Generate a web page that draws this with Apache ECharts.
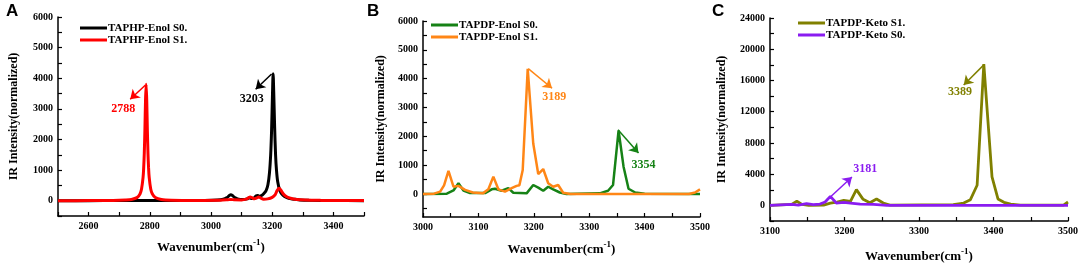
<!DOCTYPE html>
<html><head><meta charset="utf-8">
<script src="https://cdn.jsdelivr.net/npm/echarts@6/dist/echarts.min.js"></script>
<style>html,body{margin:0;padding:0;background:#fff}#c{width:1084px;height:264px}</style>
</head><body><div id="c"></div>
<script>
// ---------- data ----------
const A_S0 = [[2500,0],[2600,2],[2700,5],[2760,8],[2790,10],[2820,8],[2900,5],[2980,8],[3020,20],[3040,45],[3052,100],[3060,170],[3065,195],[3070,170],[3078,100],[3090,45],[3105,35],[3118,60],[3126,95],[3133,70],[3141,90],[3148,160],[3153,170],[3158,140],[3165,170],[3172,230],[3180,330],[3186,520],[3191,900],[3195,1500],[3198,2300],[3201,3500],[3203,4150],[3205,3550],[3208,2400],[3211,1500],[3214,1000],[3218,620],[3225,330],[3235,180],[3248,100],[3262,60],[3275,45],[3290,25],[3320,12],[3400,5],[3500,2]];
const A_S1 = [[2500,0],[2600,3],[2680,8],[2720,22],[2740,40],[2758,100],[2768,220],[2773,380],[2778,760],[2780,1070],[2782,1560],[2784,2320],[2786,3275],[2788,3800],[2790,3275],[2792,2320],[2794,1560],[2796,1070],[2798,760],[2803,380],[2808,224],[2818,103],[2838,40],[2870,18],[2950,10],[3030,15],[3055,30],[3065,40],[3075,30],[3100,25],[3115,50],[3122,90],[3128,120],[3134,100],[3142,60],[3150,90],[3156,120],[3162,90],[3172,50],[3185,60],[3200,110],[3210,200],[3216,330],[3222,410],[3228,350],[3236,230],[3246,140],[3260,80],[3280,40],[3310,20],[3360,10],[3420,5],[3500,3]];
const B_S0 = [[3000,0],[3043,10],[3055,120],[3064,370],[3073,120],[3085,30],[3112,30],[3124,160],[3130,180],[3142,110],[3154,200],[3163,40],[3187,20],[3199,310],[3208,220],[3217,110],[3226,250],[3235,160],[3247,50],[3259,0],[3319,20],[3334,110],[3343,310],[3353,2200],[3362,945],[3371,180],[3383,50],[3400,10],[3500,0]];
const B_S1 = [[3000,0],[3020,10],[3031,80],[3038,300],[3046,800],[3055,250],[3064,280],[3076,140],[3090,50],[3108,20],[3118,160],[3127,600],[3136,160],[3148,80],[3160,200],[3169,280],[3174,300],[3180,830],[3189,4340],[3199,1750],[3208,690],[3217,865],[3226,370],[3235,250],[3244,310],[3253,40],[3266,0],[3480,0],[3491,50],[3500,160]];
const C_S1 = [[3100,0],[3129,130],[3136,520],[3143,130],[3152,0],[3172,40],[3181,300],[3190,430],[3199,650],[3208,520],[3216,2020],[3225,775],[3234,345],[3243,820],[3252,300],[3261,40],[3346,90],[3360,300],[3369,730],[3378,2580],[3387,18100],[3398,3655],[3406,820],[3414,390],[3423,170],[3436,40],[3494,40],[3500,430]];
const C_S0 = [[3100,0],[3129,130],[3138,40],[3149,215],[3158,90],[3167,170],[3174,430],[3181,1160],[3189,300],[3199,390],[3208,300],[3221,170],[3239,130],[3257,0],[3500,0]];

const seriesNames = ['TAPHP-Enol S0.','TAPHP-Enol S1.','TAPDP-Enol S0.','TAPDP-Enol S1.','TAPDP-Keto S1.','TAPDP-Keto S0.'];

const A_xLabels = [2600,2800,3000,3200,3400];
const A_xTicks = [2500,2600,2700,2800,2900,3000,3100,3200,3300,3400,3500];
const A_yLabels = [0,1000,2000,3000,4000,5000,6000];
const A_yTicks = [-500,0,500,1000,1500,2000,2500,3000,3500,4000,4500,5000,5500,6000];
const B_xLabels = [3000,3100,3200,3300,3400,3500];
const B_xTicks = [3000,3050,3100,3150,3200,3250,3300,3350,3400,3450,3500];
const B_yLabels = [0,1000,2000,3000,4000,5000,6000];
const B_yTicks = [-500,0,500,1000,1500,2000,2500,3000,3500,4000,4500,5000,5500,6000];
const C_xLabels = [3100,3200,3300,3400,3500];
const C_xTicks = [3100,3150,3200,3250,3300,3350,3400,3450,3500];
const C_yLabels = [0,4000,8000,12000,16000,20000,24000];
const C_yTicks = [-2000,0,2000,4000,6000,8000,10000,12000,14000,16000,18000,20000,22000,24000];

// annotations: arrow [from, to], label [x, y, text]
const A_S0_arrow = [[3198,4140],[3146,3640]];
const A_S0_label = [3133,3330,'3203'];
const A_S1_arrow = [[2786,3780],[2736,3313]];
const A_S1_label = [2713,3010,'2788'];
const B_S1_arrow = [[3190,4350],[3233,3668]];
const B_S1_label = [3237,3370,'3189'];
const B_S0_arrow = [[3352,2225],[3389,1420]];
const B_S0_label = [3398,1010,'3354'];
const C_S1_arrow = [[3387,18000],[3360,15420]];
const C_S1_label = [3355,14560,'3389'];
const C_S0_arrow = [[3181,1070],[3210,3640]];
const C_S0_label = [3228,4720,'3181'];

// ---------- chart ----------
const SERIF = 'Liberation Serif';
const chart = echarts.init(document.getElementById('c'), null, {renderer:'canvas'});
const plain = v => String(v);

function xAxis(gi, min, max, labels, ticks, gap) {
  return {
    type:'value', gridIndex:gi, min:min, max:max,
    name:'Wavenumber(cm{sup|-1})', nameLocation:'middle', nameGap:gap,
    nameTextStyle:{fontFamily:SERIF, fontWeight:'bold', fontSize:13, color:'#000', lineHeight:20,
      rich:{sup:{fontFamily:SERIF, fontWeight:'bold', fontSize:9, color:'#000', verticalAlign:'top', lineHeight:9}}},
    axisLine:{onZero:false, lineStyle:{color:'#000', width:1.5}},
    axisTick:{inside:true, length:4, customValues:ticks, lineStyle:{color:'#000', width:1.2}},
    axisLabel:{customValues:labels, formatter:plain, fontFamily:SERIF, fontWeight:'bold', fontSize:10, color:'#000', margin:5},
    splitLine:{show:false}
  };
}
function yAxis(gi, min, max, labels, ticks, gap) {
  return {
    type:'value', gridIndex:gi, min:min, max:max,
    name:'IR Intensity(normalized)', nameLocation:'middle', nameGap:gap,
    nameTextStyle:{fontFamily:SERIF, fontWeight:'bold', fontSize:12, color:'#000'},
    axisLine:{show:true, onZero:false, lineStyle:{color:'#000', width:1.5}},
    axisTick:{show:true, inside:true, length:4, customValues:ticks, lineStyle:{color:'#000', width:1.2}},
    axisLabel:{customValues:labels, formatter:plain, fontFamily:SERIF, fontWeight:'bold', fontSize:10, color:'#000', margin:5},
    splitLine:{show:false}
  };
}
function annot(color, arrow, label) {
  return {
    markLine:{silent:true, animation:false, symbol:['none','arrow'], symbolSize:9,
      lineStyle:{color:color, width:1.5, type:'solid', opacity:1}, label:{show:false},
      emphasis:{disabled:true},
      data:[[{coord:arrow[0], symbol:'none'},{coord:arrow[1], symbol:'arrow', symbolSize:9}]]},
    markPoint:{silent:true, animation:false, symbol:'circle', symbolSize:1, itemStyle:{color:'rgba(0,0,0,0)'},
      label:{show:true, position:'inside', formatter:label[2], color:color, fontFamily:SERIF, fontWeight:'bold', fontSize:12},
      data:[{coord:[label[0],label[1]]}]}
  };
}
function line(name, gi, data, color, width, smooth, arrow, label) {
  return Object.assign({
    type:'line', name:name, xAxisIndex:gi, yAxisIndex:gi, data:data,
    showSymbol:false, symbol:'none', smooth:smooth, animation:false,
    lineStyle:{color:color, width:width}, itemStyle:{color:color}
  }, annot(color, arrow, label));
}
function legend(names, left, top) {
  return {data:names, orient:'vertical', left:left, top:top, icon:'rect', itemWidth:27, itemHeight:3,
    itemGap:0, padding:0, selectedMode:false,
    textStyle:{fontFamily:SERIF, fontWeight:'bold', fontSize:11, color:'#000', lineHeight:12, padding:[0,0,0,-4]}};
}

const COL = {black:'#000000', red:'#ff0000', green:'#168216', orange:'#ff8616', olive:'#808000', purple:'#8a1cf0'};

chart.setOption({
  backgroundColor:'#fff',
  animation:false,
  graphic:[
    {type:'text', left:6, top:3, style:{text:'A', font:'bold 17px "Liberation Sans"', fill:'#000'}},
    {type:'text', left:367, top:3, style:{text:'B', font:'bold 17px "Liberation Sans"', fill:'#000'}},
    {type:'text', left:712, top:3, style:{text:'C', font:'bold 17px "Liberation Sans"', fill:'#000'}}
  ],
  grid:[
    {left:58, top:17, width:306, height:199, containLabel:false, outerBoundsMode:'none'},
    {left:423, top:21, width:277, height:196, containLabel:false, outerBoundsMode:'none'},
    {left:770, top:18, width:298, height:203, containLabel:false, outerBoundsMode:'none'}
  ],
  legend:[
    legend([seriesNames[0],seriesNames[1]], 80, 22),
    legend([seriesNames[2],seriesNames[3]], 431, 19),
    legend([seriesNames[4],seriesNames[5]], 798, 17)
  ],
  xAxis:[
    xAxis(0, 2500, 3500, A_xLabels, A_xTicks, 22),
    xAxis(1, 3000, 3500, B_xLabels, B_xTicks, 23),
    xAxis(2, 3100, 3500, C_xLabels, C_xTicks, 26)
  ],
  yAxis:[
    yAxis(0, -500, 6000, A_yLabels, A_yTicks, 38),
    yAxis(1, -800, 6000, B_yLabels, B_yTicks, 36),
    yAxis(2, -2000, 24000, C_yLabels, C_yTicks, 42)
  ],
  series:[
    line(seriesNames[0], 0, A_S0, COL.black, 3, 0.3, A_S0_arrow, A_S0_label),
    line(seriesNames[1], 0, A_S1, COL.red, 3, 0.3, A_S1_arrow, A_S1_label),
    line(seriesNames[2], 1, B_S0, COL.green, 2.5, false, B_S0_arrow, B_S0_label),
    line(seriesNames[3], 1, B_S1, COL.orange, 2.5, false, B_S1_arrow, B_S1_label),
    line(seriesNames[4], 2, C_S1, COL.olive, 2.8, false, C_S1_arrow, C_S1_label),
    line(seriesNames[5], 2, C_S0, COL.purple, 2.8, false, C_S0_arrow, C_S0_label)
  ]
});
</script></body></html>
